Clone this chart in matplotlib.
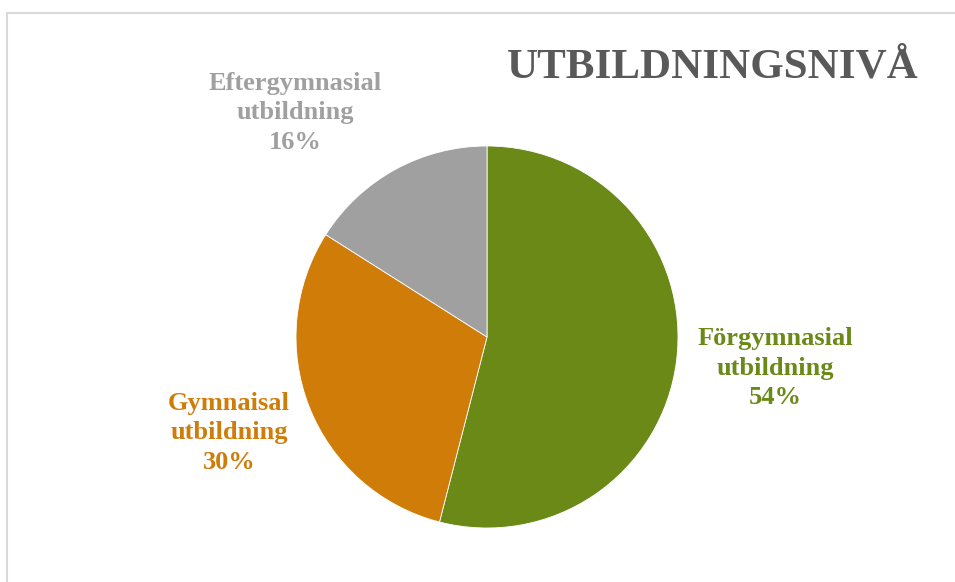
import matplotlib
matplotlib.use('Agg')
import matplotlib.pyplot as plt
from matplotlib.patches import Rectangle

labels = ['Förgymnasial\nutbildning', 'Gymnaisal\nutbildning', 'Eftergymnasial\nutbildning']
values = [54, 30, 16]
colors = ['#6a8917', '#d07c09', '#a0a0a0']
title = 'UTBILDNINGSNIVÅ'

W, H = 955, 582
fig = plt.figure(figsize=(W/100, H/100), dpi=100)
plt.rcParams['font.family'] = ['Liberation Serif', 'DejaVu Serif']

# light grey chart border (runs off right/bottom edge)
fig.patches.append(Rectangle((7/W, -0.1), 2, 1 - 13/H + 0.1, transform=fig.transFigure,
                             fill=False, edgecolor='#d9d9d9', linewidth=1.5))

cx, cy, r = 487, 337, 191
ax = fig.add_axes([(cx-r)/W, (H-cy-r)/H, 2*r/W, 2*r/H])
ax.pie(values, colors=colors, startangle=90, counterclock=False, radius=1,
       wedgeprops=dict(edgecolor='white', linewidth=0.6))
ax.set_xlim(-1, 1)
ax.set_ylim(-1, 1)
ax.axis('off')

# data label positions in pixels
label_pos = [(775, 368), (229, 433), (295, 113)]
for lab, v, c, (px, py) in zip(labels, values, colors, label_pos):
    fig.text(px/W, 1 - py/H, '%s\n%d%%' % (lab, v), color=c, fontsize=19,
             fontweight='bold', ha='center', va='center', linespacing=1.38)

fig.text(713/W, 1 - 67/H, title, color='#595959', fontsize=31, fontweight='bold',
         ha='center', va='center')

fig.savefig('out.png', dpi=100)
